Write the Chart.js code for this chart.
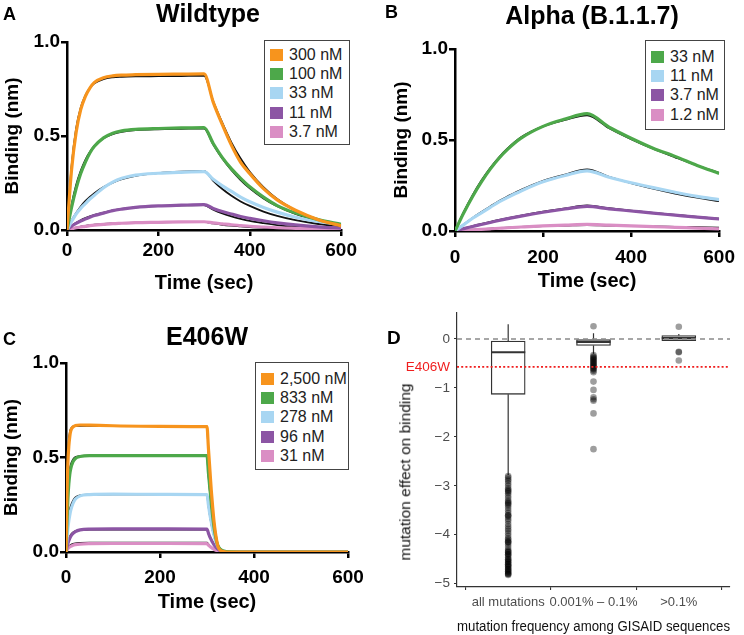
<!DOCTYPE html>
<html>
<head>
<meta charset="utf-8">
<script src="https://cdn.jsdelivr.net/npm/chart.js@4.4.0/dist/chart.umd.min.js"></script>
<style>
  body { margin: 0; background: #fff; font-family: "Liberation Sans", Arial, sans-serif; }
  #fig { position: relative; width: 744px; height: 635px; overflow: hidden; }
  canvas { position: absolute; }
  .letter { position: absolute; font-weight: bold; font-size: 18px; line-height: 1; }
  .ttl { position: absolute; font-weight: bold; font-size: 25px; line-height: 1; white-space: nowrap; transform: translate(-50%, -50%); }
  .ytitle { position: absolute; font-size: 15.5px; line-height: 1; white-space: nowrap; color: #111; transform: translate(-50%, -50%) rotate(-90deg); }
  .leg { position: absolute; border: 1.5px solid #444; background: #fff; box-sizing: border-box; padding-left: 5px; }
  .leg div { height: 19.3px; display: flex; align-items: center; font-size: 16px; color: #222; white-space: nowrap; }
  .leg span { display: inline-block; width: 13px; height: 12px; margin-right: 6px; }
</style>
</head>
<body>
<div id="fig">
  <canvas id="chartA" width="360" height="300" style="left:0;top:0"></canvas>
  <canvas id="chartB" width="372" height="300" style="left:372px;top:0"></canvas>
  <canvas id="chartC" width="372" height="335" style="left:0;top:300px"></canvas>
  <canvas id="chartD" width="372" height="335" style="left:372px;top:300px"></canvas>
  <div class="letter" style="left:3px;top:5px">A</div>
  <div class="letter" style="left:385px;top:3px">B</div>
  <div class="letter" style="left:3px;top:330px">C</div>
  <div class="letter" style="left:387px;top:328px;font-size:19px">D</div>
  <div class="ttl" style="left:208px;top:13px">Wildtype</div>
  <div class="ttl" style="left:592px;top:15px">Alpha (B.1.1.7)</div>
  <div class="ttl" style="left:207px;top:336px">E406W</div>
  <div class="ytitle" style="left:405px;top:472px">mutation effect on binding</div>
  <div class="leg" id="legA" style="left:264px;top:40px;width:86px;height:105px;padding-top:4px"></div>
  <div class="leg" id="legB" style="left:645px;top:40px;width:80px;height:90px;padding-top:6px"></div>
  <div class="leg" id="legC" style="left:255px;top:362px;width:94px;height:108px;padding-top:6px"></div>
</div>
<script>
// binding kinetics, values (nm)
const timeTicks = [0, 200, 400, 600];
const bindTicks = [0, 0.5, 1.0];
const kinColors = ['#F7941D', '#4DA84A', '#A8D6F2', '#8C55A4', '#DA8EC4'];

const timeA = [0,10,20,30,40,50,60,80,100,120,150,200,250,300,320,340,360,380,400,430,460,500,550,600];
const labelsA = ['300 nM', '100 nM', '33 nM', '11 nM', '3.7 nM'];
const wt300 = [0,0.32,0.52,0.64,0.71,0.755,0.785,0.81,0.82,0.824,0.826,0.828,0.829,0.83,0.68,0.56,0.45,0.36,0.30,0.22,0.16,0.105,0.055,0.022];
const wt100 = [0,0.12,0.22,0.30,0.36,0.41,0.445,0.49,0.515,0.527,0.535,0.54,0.543,0.545,0.46,0.385,0.325,0.275,0.23,0.175,0.13,0.09,0.055,0.03];
const wt33  = [0,0.045,0.085,0.115,0.14,0.165,0.185,0.225,0.255,0.275,0.292,0.302,0.307,0.31,0.27,0.235,0.205,0.175,0.15,0.12,0.095,0.068,0.045,0.028];
const wt11  = [0,0.02,0.035,0.048,0.058,0.068,0.077,0.09,0.103,0.111,0.12,0.128,0.132,0.135,0.115,0.098,0.085,0.072,0.062,0.049,0.038,0.027,0.017,0.01];
const wt3_7 = [0,0.006,0.012,0.016,0.019,0.023,0.026,0.03,0.034,0.036,0.039,0.041,0.043,0.044,0.038,0.033,0.028,0.024,0.02,0.016,0.012,0.009,0.006,0.004];
const fitWt300 = [0,0.34,0.54,0.65,0.715,0.755,0.78,0.803,0.812,0.815,0.817,0.818,0.819,0.82,0.685,0.57,0.465,0.38,0.31,0.228,0.165,0.105,0.055,0.018];
const fitWt100 = [0,0.135,0.24,0.315,0.372,0.415,0.447,0.488,0.51,0.522,0.531,0.536,0.538,0.54,0.455,0.38,0.318,0.266,0.222,0.168,0.126,0.085,0.05,0.026];
const fitWt33  = [0,0.05,0.09,0.125,0.153,0.176,0.196,0.228,0.252,0.27,0.288,0.303,0.311,0.315,0.262,0.218,0.182,0.152,0.128,0.098,0.075,0.052,0.032,0.02];
const fitWt11  = [0,0.022,0.038,0.052,0.063,0.072,0.08,0.093,0.104,0.112,0.12,0.127,0.131,0.133,0.108,0.088,0.072,0.059,0.048,0.036,0.026,0.017,0.01,0.006];
const fitWt3_7 = [0,0.007,0.013,0.018,0.022,0.025,0.028,0.032,0.035,0.037,0.039,0.041,0.042,0.043,0.035,0.028,0.023,0.019,0.015,0.011,0.008,0.005,0.003,0.002];

const timeB = [0,20,40,60,80,100,120,150,200,250,300,350,400,450,500,550,600];
const labelsB = ['33 nM', '11 nM', '3.7 nM', '1.2 nM'];
const al33  = [0,0.10,0.19,0.27,0.34,0.40,0.45,0.51,0.575,0.615,0.645,0.57,0.51,0.455,0.41,0.36,0.316];
const al11  = [0,0.035,0.07,0.10,0.13,0.16,0.185,0.22,0.27,0.305,0.33,0.295,0.265,0.238,0.213,0.19,0.172];
const al3_7 = [0,0.013,0.025,0.036,0.047,0.058,0.068,0.082,0.103,0.121,0.135,0.122,0.11,0.098,0.087,0.076,0.066];
const al1_2 = [0,0.003,0.006,0.009,0.012,0.015,0.018,0.022,0.028,0.032,0.036,0.032,0.028,0.024,0.02,0.016,0.012];
const fitAl33  = [0,0.105,0.197,0.277,0.346,0.405,0.455,0.515,0.575,0.61,0.635,0.565,0.505,0.452,0.405,0.36,0.32];
const fitAl11  = [0,0.036,0.072,0.104,0.135,0.165,0.19,0.226,0.276,0.31,0.338,0.298,0.263,0.233,0.206,0.183,0.164];
const fitAl3_7 = [0,0.014,0.027,0.039,0.05,0.061,0.071,0.085,0.106,0.124,0.14,0.125,0.112,0.1,0.089,0.078,0.068];
const fitAl1_2 = [0,0.004,0.007,0.01,0.013,0.016,0.018,0.022,0.027,0.03,0.033,0.03,0.028,0.025,0.023,0.021,0.019];

const timeC = [0,2,4,6,8,10,15,20,30,50,100,200,300,303,306,309,312,315,318,321,324,328,335,350,400,600];
const labelsC = ['2,500 nM', '833 nM', '278 nM', '96 nM', '31 nM'];
const e2500 = [0,0.3,0.47,0.56,0.61,0.64,0.662,0.669,0.672,0.671,0.668,0.665,0.663,0.55,0.44,0.33,0.24,0.16,0.10,0.055,0.025,0.01,0.003,0,0,0];
const e833  = [0,0.16,0.28,0.36,0.41,0.44,0.478,0.495,0.505,0.51,0.51,0.51,0.51,0.42,0.34,0.26,0.19,0.13,0.085,0.05,0.03,0.015,0.005,0.001,0,0];
const e278  = [0,0.07,0.125,0.165,0.195,0.22,0.258,0.28,0.297,0.304,0.306,0.305,0.304,0.25,0.2,0.16,0.12,0.088,0.062,0.042,0.027,0.014,0.005,0.001,0,0];
const e96   = [0,0.025,0.045,0.06,0.072,0.082,0.098,0.108,0.117,0.121,0.122,0.122,0.121,0.1,0.08,0.064,0.05,0.038,0.028,0.02,0.013,0.007,0.002,0,0,0];
const e31   = [0,0.01,0.017,0.023,0.027,0.03,0.036,0.039,0.042,0.044,0.045,0.045,0.044,0.036,0.03,0.024,0.019,0.014,0.01,0.007,0.005,0.003,0.001,0,0,0];
const fitE2500 = [0,0.34,0.51,0.59,0.63,0.65,0.664,0.667,0.668,0.668,0.667,0.666,0.665,0.54,0.42,0.31,0.22,0.15,0.095,0.055,0.03,0.012,0.004,0.001,0,0];
const fitE833  = [0,0.19,0.31,0.39,0.435,0.46,0.49,0.502,0.508,0.51,0.51,0.51,0.51,0.41,0.325,0.25,0.185,0.13,0.088,0.055,0.032,0.015,0.005,0.001,0,0];
const fitE278  = [0,0.085,0.145,0.19,0.22,0.242,0.272,0.289,0.3,0.304,0.305,0.305,0.304,0.245,0.195,0.152,0.115,0.085,0.06,0.04,0.026,0.013,0.004,0.001,0,0];
const fitE96   = [0,0.03,0.052,0.068,0.08,0.09,0.104,0.111,0.116,0.118,0.118,0.118,0.118,0.098,0.08,0.065,0.052,0.041,0.031,0.023,0.016,0.009,0.003,0.001,0,0];
const fitE31   = [0,0.012,0.021,0.028,0.033,0.037,0.043,0.046,0.048,0.049,0.049,0.049,0.049,0.04,0.032,0.026,0.02,0.015,0.011,0.008,0.005,0.003,0.001,0,0,0];

// panel D: box plot of mutation effects
const groups = ['all mutations', '0.001% \u2013 0.1%', '>0.1%'];
const effectTicks = [-5, -4, -3, -2, -1, 0];
const e406wEffect = -0.57;
const boxQ1  = [-1.13, -0.13, -0.035];
const boxMed = [-0.27, -0.06, 0.02];
const boxQ3  = [-0.04, -0.01, 0.07];
const whiskLo = [-2.78, -0.30, -0.035];
const whiskHi = [0.30, 0.12, 0.10];
const outAll = [-2.8,-2.83,-2.87,-2.9,-2.95,-3.0,-3.05,-3.08,-3.1,-3.12,-3.15,-3.2,-3.25,-3.3,-3.33,-3.35,-3.37,-3.4,-3.45,-3.5,-3.55,-3.6,-3.6,-3.63,-3.68,-3.72,-3.78,-3.83,-3.88,-3.92,-3.97,-4.02,-4.07,-4.1,-4.13,-4.15,-4.16,-4.2,-4.25,-4.3,-4.33,-4.35,-4.36,-4.4,-4.4,-4.43,-4.46,-4.5,-4.5,-4.53,-4.55,-4.56,-4.6,-4.6,-4.63,-4.65,-4.66,-4.7,-4.7,-4.72,-4.75,-4.75,-4.78,-4.8,-4.8,-4.82];
const outMid = [0.26,-0.33,-0.36,-0.38,-0.4,-0.42,-0.44,-0.46,-0.48,-0.5,-0.52,-0.54,-0.56,-0.58,-0.6,-0.62,-0.65,-0.68,-0.87,-1.04,-1.19,-1.23,-1.26,-1.52,-2.25];
const outHigh = [0.25, -0.26, -0.27, -0.44];

function pts(times, vals) { return times.map((t, i) => ({x: t, y: vals[i]})); }

function kinChart(id, times, series, fits, colors, o) {
  const datasets = [];
  series.forEach((s, i) => datasets.push({data: pts(times, s), borderColor: colors[i], borderWidth: 3.2, pointRadius: 0, cubicInterpolationMode: 'monotone'}));
  fits.forEach(f => datasets.push({data: pts(times, f), borderColor: '#111', borderWidth: 1.8, pointRadius: 0, cubicInterpolationMode: 'monotone'}));
  const axisFont = {family: '"Liberation Sans", Arial, sans-serif', weight: 'bold', size: 19};
  new Chart(document.getElementById(id), {
    type: 'line',
    data: {datasets},
    options: {
      responsive: false, animation: false,
      layout: {padding: {top: o.top, right: o.right, left: 0, bottom: 0}},
      plugins: {legend: {display: false}, tooltip: {enabled: false}},
      scales: {
        x: {type: 'linear', min: 0, max: 600,
            afterBuildTicks: s => { s.ticks = timeTicks.map(v => ({value: v})); },
            afterFit: s => { s.height = o.xH; },
            border: {color: '#000', width: 2.5},
            grid: {drawOnChartArea: false, color: '#000', lineWidth: 2.5, tickLength: 6},
            ticks: {color: '#000', font: axisFont, padding: o.xTickPad, maxRotation: 0},
            title: {display: true, text: 'Time (sec)', color: '#000', font: {family: axisFont.family, weight: 'bold', size: 20}, padding: {top: 0, bottom: o.xTitlePad}}},
        y: {min: 0, max: 1,
            afterBuildTicks: s => { s.ticks = bindTicks.map(v => ({value: v})); },
            afterFit: s => { s.width = o.yW; },
            border: {color: '#000', width: 2.5},
            grid: {drawOnChartArea: false, color: '#000', lineWidth: 2.5, tickLength: 6},
            ticks: {color: '#000', font: axisFont, padding: 1, callback: v => v.toFixed(1)},
            title: {display: true, text: 'Binding (nm)', color: '#000', font: {family: axisFont.family, weight: 'bold', size: 19}, padding: {top: o.yTitlePad, bottom: 0}}}
      }
    }
  });
}

function legend(id, labels, colors) {
  const el = document.getElementById(id);
  labels.forEach((l, i) => {
    const row = document.createElement('div');
    row.innerHTML = '<span style="background:' + colors[i] + '"></span>' + l;
    el.appendChild(row);
  });
}

kinChart('chartA', timeA, [wt300, wt100, wt33, wt11, wt3_7], [fitWt300, fitWt100, fitWt33, fitWt11, fitWt3_7], kinColors,
  {top: 42, right: 12, xH: 70, yW: 67, xTickPad: 3, xTitlePad: 5, yTitlePad: 1});
kinChart('chartB', timeB, [al33, al11, al3_7, al1_2], [fitAl33, fitAl11, fitAl3_7, fitAl1_2], kinColors.slice(1),
  {top: 49, right: 16, xH: 69, yW: 83, xTickPad: 9, xTitlePad: 7, yTitlePad: 18});
kinChart('chartC', timeC, [e2500, e833, e278, e96, e31], [fitE2500, fitE833, fitE278, fitE96, fitE31], kinColors,
  {top: 63, right: 24, xH: 83, yW: 66, xTickPad: 8, xTitlePad: 21, yTitlePad: 0});
legend('legA', labelsA, kinColors);
legend('legB', labelsB, kinColors.slice(1));
legend('legC', labelsC, kinColors);

// box plot built from floating bars, line segments and points
const boxHalf = 0.2;
const whiskerPts = [], medianPts = [], outlierPts = [];
groups.forEach((g, i) => {
  const x = i + 1;
  whiskerPts.push({x, y: boxQ3[i]}, {x, y: whiskHi[i]}, {x, y: null}, {x, y: boxQ1[i]}, {x, y: whiskLo[i]}, {x, y: null});
  medianPts.push({x: x - boxHalf, y: boxMed[i]}, {x: x + boxHalf, y: boxMed[i]}, {x: x + boxHalf, y: null});
});
[outAll, outMid, outHigh].forEach((arr, i) => arr.forEach(v => outlierPts.push({x: i + 1, y: v})));

const fontD = '"Liberation Sans", Arial, sans-serif';
new Chart(document.getElementById('chartD'), {
  type: 'line',
  data: {datasets: [
    {data: [{x: 0.4, y: e406wEffect}, {x: 3.6, y: e406wEffect}], borderColor: '#f01e1e', borderWidth: 1.6, borderDash: [2, 2.2], pointRadius: 0},
    {data: [{x: 0.4, y: 0}, {x: 3.6, y: 0}], borderColor: '#8a8a8a', borderWidth: 1.3, borderDash: [5, 4], pointRadius: 0},
    {data: outlierPts, showLine: false, pointRadius: 3.3, pointBackgroundColor: 'rgba(0,0,0,0.38)', pointBorderWidth: 0},
    {data: medianPts, borderColor: '#333', borderWidth: 2.2, pointRadius: 0},
    {type: 'bar', data: groups.map((g, i) => ({x: i + 1, y: [boxQ1[i], boxQ3[i]]})), backgroundColor: '#fff', borderColor: '#333', borderWidth: 1.3, borderSkipped: false, barThickness: 34},
    {data: whiskerPts, borderColor: '#333', borderWidth: 1.2, pointRadius: 0}
  ]},
  options: {
    responsive: false, animation: false,
    layout: {padding: {top: 12, right: 14, left: 0, bottom: 0}},
    plugins: {legend: {display: false}, tooltip: {enabled: false}},
    scales: {
      x: {type: 'linear', min: 0.4, max: 3.6, offset: false,
          afterBuildTicks: s => { s.ticks = groups.map((g, i) => ({value: i + 1})); },
          afterFit: s => { s.height = 48; },
          border: {color: '#333', width: 1.2},
          grid: {drawOnChartArea: false, color: '#333', lineWidth: 1.1, tickLength: 3},
          ticks: {color: '#4d4d4d', font: {family: fontD, size: 13}, padding: 4.5, maxRotation: 0, callback: v => groups[v - 1]},
          title: {display: true, text: 'mutation frequency among GISAID sequences', color: '#111', font: {family: fontD, size: 13.8}, padding: {top: 0, bottom: 0}}},
      y: {min: -5.067, max: 0.55,
          afterBuildTicks: s => { s.ticks = effectTicks.concat([e406wEffect]).map(v => ({value: v})); },
          afterFit: s => { s.width = 85; },
          border: {color: '#333', width: 1.2},
          grid: {drawOnChartArea: false, lineWidth: 1.1, tickLength: 3,
                 color: c => (c.tick && c.tick.value === e406wEffect) ? 'rgba(0,0,0,0)' : '#333'},
          ticks: {padding: 4,
                  color: c => (c.tick && c.tick.value === e406wEffect) ? '#f01e1e' : '#4d4d4d',
                  font: {family: fontD, size: 13.5},
                  callback: v => v === e406wEffect ? 'E406W' : (v < 0 ? '\u2212' + Math.abs(v) : String(v))}}
    }
  }
});
</script>
</body>
</html>
